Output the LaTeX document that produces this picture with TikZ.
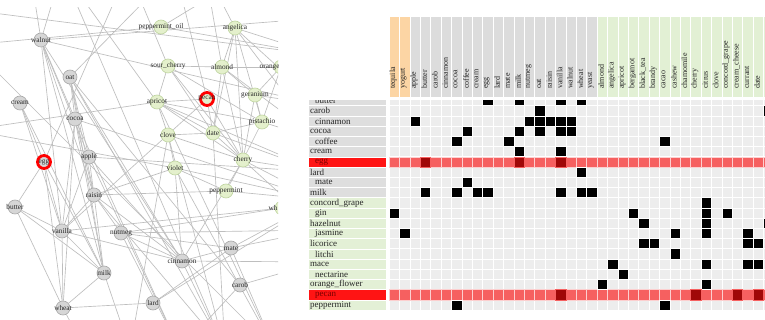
\documentclass[tikz,border=0pt]{standalone}
\usepackage{fontspec}
\setmainfont{Liberation Serif}
\usetikzlibrary{backgrounds}
\definecolor{nodegray}{HTML}{D6D6D6}
\definecolor{nodegrayline}{HTML}{A9A9A9}
\definecolor{nodegreen}{HTML}{E4F0CC}
\definecolor{nodegreenline}{HTML}{BFD4A0}
\definecolor{hlred}{HTML}{FF0000}
\definecolor{edgec}{HTML}{BEBEBE}
\definecolor{cellbg}{HTML}{EDEDED}
\definecolor{redrow}{HTML}{F66060}
\definecolor{darkred}{HTML}{A00808}
\definecolor{hdrgray}{HTML}{DCDCDC}
\definecolor{hdrgreen}{HTML}{E2F0D4}
\definecolor{hdrorange}{HTML}{FCD5A4}
\definecolor{labgray}{HTML}{DEDEDE}
\definecolor{labgreen}{HTML}{E3F0D6}
\definecolor{labred}{HTML}{FF1414}
\definecolor{labredtext}{HTML}{7A0000}
\begin{document}
\begin{tikzpicture}[x=1pt,y=-1pt,
  edge/.style={draw=edgec, line width=0.65pt},
  gn/.style={circle, minimum size=14pt, inner sep=0pt, fill=nodegray, draw=nodegrayline, line width=0.6pt},
  grn/.style={circle, minimum size=14pt, inner sep=0pt, fill=nodegreen, draw=nodegreenline, line width=0.6pt},
  hl/.style={draw=hlred, line width=2.8pt, minimum size=13pt},
  glab/.style={font=\fontsize{7.3pt}{8pt}\selectfont, text=black!85, inner sep=0pt},
  cellc/.style={fill=cellbg, draw=white, line width=0.6pt},
  cellr/.style={fill=redrow, draw=white!70!redrow, line width=0.4pt},
  cellk/.style={fill=black, draw=white, line width=0.6pt},
  celld/.style={fill=darkred, draw=redrow, line width=0.4pt},
  rowlab/.style={font=\fontsize{9pt}{10pt}\selectfont, text=black!85, inner sep=0pt, anchor=west},
  collab/.style={font=\fontsize{8pt}{9pt}\selectfont, text=black!85, inner sep=0pt, anchor=west, rotate=90},
  hdrcell/.style={draw=white, line width=0.3pt}
]
\path[use as bounding box] (0,0) rectangle (765,320);

% ---------------- graph nodes ----------------
\begin{scope}
\clip (0,8) rectangle (278,320);
\node[gn, label={[glab]center:walnut}] (walnut) at (41,40) {};
\node[grn, label={[glab]center:peppermint\_oil}] (pepoil) at (161,27) {};
\node[grn, label={[glab]center:angelica}] (angelica) at (235,28) {};
\node[gn, label={[glab]center:oat}] (oat) at (70,77) {};
\node[grn, label={[glab]center:sour\_cherry}] (sourcherry) at (168,66) {};
\node[grn, label={[glab]center:almond}] (almond) at (222,67) {};
\node[grn, label={[glab]center:orange\_flower}] (orangefl) at (281,67) {};
\node[gn, label={[glab]center:cream}] (cream) at (20,103) {};
\node[grn, label={[glab]center:apricot}] (apricot) at (157,102) {};
\node[grn, hl, label={[glab]center:pecan}] (pecan) at (207,99) {};
\node[grn, label={[glab]center:geranium}] (geranium) at (255,95) {};
\node[gn, label={[glab]center:cocoa}] (cocoa) at (75,119) {};
\node[grn, label={[glab]center:pistachio}] (pistachio) at (262,122) {};
\node[grn, label={[glab]center:clove}] (clove) at (168,135) {};
\node[grn, label={[glab]center:date}] (date) at (213,133) {};
\node[gn, hl, label={[glab]center:egg}] (egg) at (44,162) {};
\node[gn, label={[glab]center:apple}] (apple) at (89,157) {};
\node[grn, label={[glab]center:cherry}] (cherry) at (243,160) {};
\node[grn, label={[glab]center:violet}] (violet) at (175,168) {};
\node[grn, label={[glab]center:peppermint}] (peppermint) at (226,191) {};
\node[gn, label={[glab]center:raisin}] (raisin) at (94,195) {};
\node[gn, label={[glab]center:butter}] (butter) at (15,207) {};
\node[grn, label={[glab, anchor=west, xshift=-9pt]center:wh}] (wh) at (282,208) {};
\node[gn, label={[glab]center:vanilla}] (vanilla) at (62,231) {};
\node[gn, label={[glab]center:nutmeg}] (nutmeg) at (121,233) {};
\node[gn, label={[glab]center:mate}] (mate) at (231,248) {};
\node[gn, label={[glab]center:cinnamon}] (cinnamon) at (182,261) {};
\node[gn, label={[glab]center:milk}] (milk) at (104,273) {};
\node[gn, label={[glab]center:carob}] (carob) at (240,285) {};
\node[gn, label={[glab]center:lard}] (lard) at (153,303) {};
\node[gn, label={[glab]center:wheat}] (wheat) at (63,308) {};
\end{scope}

% off-screen ends of connectors
\coordinate (t1) at (30,-30);  \coordinate (t2) at (62,-30);  \coordinate (t3) at (128,-30);
\coordinate (t4) at (175,-30); \coordinate (t5) at (205,-30); \coordinate (t6) at (255,-30);
\coordinate (r1) at (320,55);  \coordinate (r2) at (320,105); \coordinate (r3) at (320,140);
\coordinate (r4) at (320,172); \coordinate (r5) at (320,200); \coordinate (r6) at (320,230);
\coordinate (r7) at (320,262); \coordinate (r9) at (320,18);
\coordinate (b1) at (85,350);  \coordinate (b2) at (130,350); \coordinate (b3) at (180,350);
\coordinate (b4) at (225,350); \coordinate (b5) at (275,350);
\coordinate (l1) at (-30,45);  \coordinate (l2) at (-30,130); \coordinate (l3) at (-30,10);

% ---------------- graph connectors ----------------
\begin{scope}[on background layer]
\fill[white] (0,0) rectangle (765,320);
\clip (0,8) rectangle (278,320);
\foreach \a/\b in {walnut/t1, walnut/t2, walnut/cocoa, walnut/apple, walnut/raisin, walnut/vanilla,
  walnut/milk, walnut/cinnamon, walnut/r2, walnut/r9,
  oat/cocoa, oat/apple, oat/raisin, oat/milk, oat/cinnamon, oat/carob, oat/t4, oat/b4,
  cream/egg, cream/vanilla, cream/milk,
  cocoa/vanilla, cocoa/milk, cocoa/raisin, cocoa/r5, cocoa/wheat, cocoa/b3,
  egg/butter, egg/vanilla, egg/milk, egg/wheat, egg/t3,
  apple/raisin, apple/cinnamon, apple/vanilla, apple/r4, apple/b3,
  raisin/nutmeg, raisin/cinnamon, raisin/vanilla, raisin/milk, raisin/peppermint, raisin/violet, raisin/b4,
  butter/vanilla, butter/milk, butter/wheat,
  vanilla/milk, vanilla/wheat, vanilla/cinnamon, vanilla/wh, vanilla/pecan,
  nutmeg/cinnamon, nutmeg/wh, nutmeg/r6, nutmeg/b3, nutmeg/mate,
  milk/wheat, milk/b2, wheat/lard, wheat/b1, lard/r5, lard/mate,
  cinnamon/mate, cinnamon/r7, cinnamon/b4, cinnamon/cherry, cinnamon/violet,
  mate/r6, mate/r5, mate/b5, carob/r7, carob/b3,
  pepoil/l1, pepoil/r1, pepoil/t6,
  angelica/r1, angelica/r2, angelica/r3, angelica/pistachio, angelica/cherry, angelica/almond,
  angelica/t5, angelica/date,
  sourcherry/apricot, sourcherry/almond, sourcherry/cherry, sourcherry/pistachio, sourcherry/t3, sourcherry/date,
  almond/orangefl, almond/date, almond/cherry, almond/geranium, almond/t5, almond/r3,
  orangefl/geranium, orangefl/pistachio,
  apricot/date, apricot/cherry, apricot/clove, apricot/pistachio, apricot/pecan, apricot/l2, apricot/r4, apricot/t2, apricot/b5,
  pecan/date, pecan/cherry, pecan/t4,
  geranium/cherry, geranium/pistachio, geranium/r2, pistachio/r3, pistachio/cherry,
  clove/date, clove/cherry, clove/violet, clove/b2, clove/b4,
  date/cherry, date/r4, date/b4, date/pistachio,
  cherry/r4, cherry/r5, cherry/r6, cherry/peppermint,
  violet/peppermint, violet/r5, violet/b5, violet/l2,
  peppermint/r5, wh/r6, l3/r1, t2/b4, l1/b5}
  {\draw[edge] (\a) -- (\b);}
\end{scope}

% ---------------- matrix cells ----------------
\begin{scope}
\clip (389,95) rectangle (765,320);
\foreach \r in {0,...,20}{
  \foreach \c in {0,...,36}{
    \path[cellc] ({389+\c*10.4},{95.4+\r*10.22}) rectangle ++(10.4,10.22);
  }
}
\foreach \r in {6,19}{
  \foreach \c in {0,...,36}{
    \path[cellr] ({389+\c*10.4},{95.4+\r*10.22}) rectangle ++(10.4,10.22);
  }
}
\foreach \r/\c in {0/9,0/12,0/16,0/18, 1/14,1/36, 2/2,2/13,2/14,2/15,2/16,2/17,
  3/7,3/12,3/14,3/16,3/17, 4/6,4/11,4/26, 5/12,5/16, 7/18, 8/7,
  9/3,9/6,9/8,9/9,9/16,9/18,9/19, 10/30, 11/0,11/23,11/30,11/32,
  12/24,12/30,12/36, 13/1,13/27,13/30,13/34, 14/24,14/25,14/34,14/35,
  15/27, 16/21,16/30,16/34,16/35, 17/22, 18/20,18/30, 20/6,20/26}
  {\path[cellk] ({389+\c*10.4},{95.4+\r*10.22}) rectangle ++(10.4,10.22);}
\foreach \r/\c in {6/3,6/12,6/16,19/16,19/29,19/33,19/35}
  {\path[celld] ({389+\c*10.4},{95.4+\r*10.22}) rectangle ++(10.4,10.22);}
\end{scope}

% ---------------- row labels ----------------
\foreach \r/\t/\ind in {0/butter/5, 1/carob/0, 2/cinnamon/5, 3/cocoa/0, 4/coffee/5, 5/cream/0,
  7/lard/0, 8/mate/5, 9/milk/0}{
  \path[fill=labgray, draw=white, line width=0.3pt] (308,{95.4+\r*10.22}) rectangle ++(78,10.22);
  \node[rowlab] at ({310+\ind},{100.7+\r*10.22}) {\t};
}
\foreach \r/\t/\ind in {10/concord\_grape/0, 11/gin/5, 12/hazelnut/0, 13/jasmine/5, 14/licorice/0,
  15/litchi/5, 16/mace/0, 17/nectarine/5, 18/orange\_flower/0, 20/peppermint/0}{
  \path[fill=labgreen, draw=white, line width=0.3pt] (308,{95.4+\r*10.22}) rectangle ++(78,10.22);
  \node[rowlab] at ({310+\ind},{100.7+\r*10.22}) {\t};
}
\foreach \r/\t in {6/egg, 19/pecan}{
  \path[fill=labred, draw=white, line width=0.3pt] (308,{95.4+\r*10.22}) rectangle ++(78,10.22);
  \node[rowlab, text=labredtext] at (315,{100.7+\r*10.22}) {\t};
}

% white band above the rows
\fill[white] (300,0) rectangle (765,99.8);

% ---------------- column header ----------------
\foreach \c/\t in {0/tequila, 1/yogurt}{
  \path[hdrcell, fill=hdrorange] ({389+\c*10.4},16) rectangle ++(10.4,81);
  \node[collab] at ({393.2+\c*10.4},89) {\t};
}
\foreach \c/\t in {2/apple, 3/butter, 4/carob, 5/cinnamon, 6/cocoa, 7/coffee, 8/cream, 9/egg,
  10/lard, 11/mate, 12/milk, 13/nutmeg, 14/oat, 15/raisin, 16/vanilla, 17/walnut, 18/wheat, 19/yeast}{
  \path[hdrcell, fill=hdrgray] ({389+\c*10.4},16) rectangle ++(10.4,81);
  \node[collab] at ({393.2+\c*10.4},89) {\t};
}
\foreach \c/\t in {20/almond, 21/angelica, 22/apricot, 23/bergamot, 24/black\_tea, 25/brandy,
  26/cacao, 27/cashew, 28/chamomile, 29/cherry, 30/citrus, 31/clove, 32/concord\_grape,
  33/cream\_cheese, 34/currant, 35/date}{
  \path[hdrcell, fill=hdrgreen] ({389+\c*10.4},16) rectangle ++(10.4,81);
  \node[collab] at ({393.2+\c*10.4},89) {\t};
}
\path[hdrcell, fill=hdrgreen] (763.4,16) rectangle (766,97);
\end{tikzpicture}
\end{document}
